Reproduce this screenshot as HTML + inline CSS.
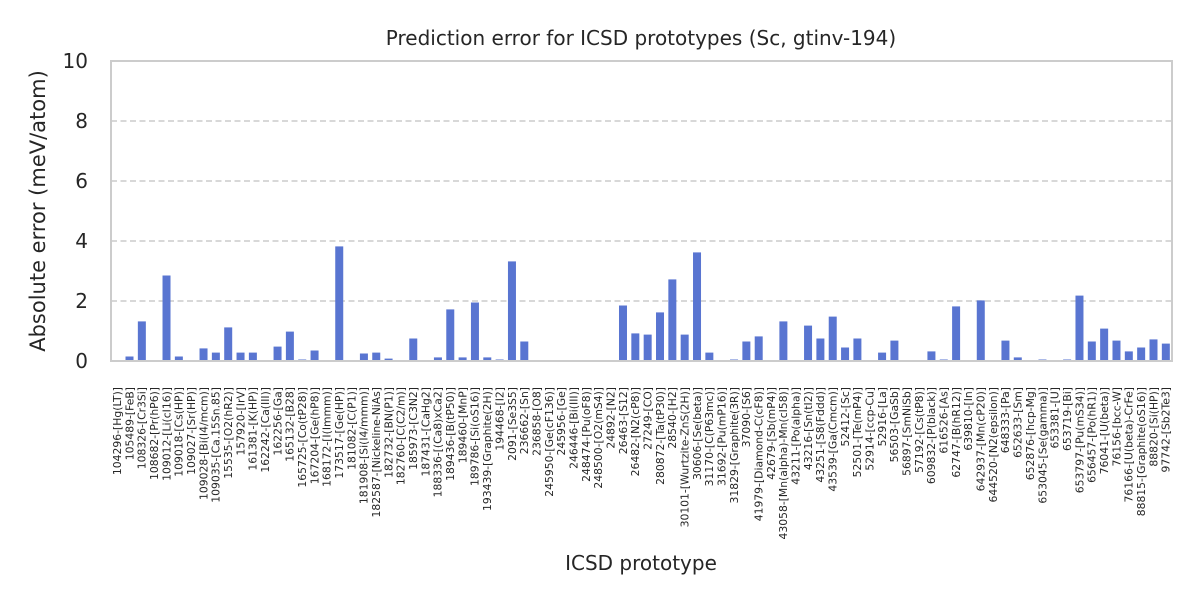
<!DOCTYPE html>
<html><head><meta charset="utf-8"><style>
html,body{margin:0;padding:0;background:#fff;}
svg{display:block;font-family:"DejaVu Sans","Liberation Sans",sans-serif;}
</style></head><body>
<svg id="chart" width="1200" height="600" viewBox="0 0 1200 600" xmlns="http://www.w3.org/2000/svg">
<rect width="1200" height="600" fill="#fff"/>
<text x="641" y="45" font-size="20" text-anchor="middle" fill="#262626">Prediction error for ICSD prototypes (Sc, gtinv-194)</text>
<text transform="translate(45,211) rotate(-90)" font-size="21" text-anchor="middle" fill="#262626">Absolute error (meV/atom)</text>
<text x="641" y="570" font-size="20" text-anchor="middle" fill="#262626">ICSD prototype</text>
<g id="grid"></g><g id="bars"></g><g id="yticks"></g><g id="xticks"></g>
<rect x="111" y="61" width="1061" height="300" fill="none" stroke="#cccccc" stroke-width="2"/>
</svg>
<script>
const categories = ["104296-[Hg(LT)]","105489-[FeB]","108326-[Cr3Si]","108682-[Pr(hP6)]","109012-[Li(cI16)]","109018-[Cs(HP)]","109027-[Sr(HP)]","109028-[Bi(I4/mcm)]","109035-[Ca.15Sn.85]","15535-[O2(hR2)]","157920-[IrV]","161381-[K(HP)]","162242-[Ca(III)]","162256-[Ga]","165132-[B28]","165725-[Co(tP28)]","167204-[Ge(hP8)]","168172-[I(Immm)]","173517-[Ge(HP)]","181082-[C(P1)]","181908-[Si(I4/mmm)]","182587-[Nickeline-NiAs]","182732-[BN(P1)]","182760-[C(C2/m)]","185973-[C3N2]","187431-[CaHg2]","188336-[(Ca8)xCa2]","189436-[B(tP50)]","189460-[MnP]","189786-[Si(oS16)]","193439-[Graphite(2H)]","194468-[I2]","2091-[Se3S5]","236662-[Sn]","236858-[O8]","245950-[Ge(cF136)]","245956-[Ge]","246446-[Bi(III)]","248474-[Pu(oF8)]","248500-[O2(mS4)]","24892-[N2]","26463-[S12]","26482-[N2(cP8)]","27249-[CO]","280872-[Ta(tP30)]","28540-[H2]","30101-[Wurtzite-ZnS(2H)]","30606-[Se(beta)]","31170-[C(P63mc)]","31692-[Pu(mP16)]","31829-[Graphite(3R)]","37090-[S6]","41979-[Diamond-C(cF8)]","42679-[Sb(mP4)]","43058-[Mn(alpha)-Mn(cI58)]","43211-[Po(alpha)]","43216-[Sn(tI2)]","43251-[S8(Fddd)]","43539-[Ga(Cmcm)]","52412-[Sc]","52501-[Te(mP4)]","52914-[ccp-Cu]","52916-[La]","56503-[GaSb]","56897-[SmNiSb]","57192-[Cs(tP8)]","609832-[P(black)]","616526-[As]","62747-[B(hR12)]","639810-[In]","642937-[Mn(cP20)]","644520-[N2(epsilon)]","648333-[Pa]","652633-[Sm]","652876-[hcp-Mg]","653045-[Se(gamma)]","653381-[U]","653719-[Bi]","653797-[Pu(mS34)]","656457-[Po(hR1)]","76041-[U(beta)]","76156-[bcc-W]","76166-[U(beta)-CrFe]","88815-[Graphite(oS16)]","88820-[Si(HP)]","97742-[Sb2Te3]"];
const values = [0,0.15,1.32,0,2.85,0.15,0,0.42,0.28,1.12,0.28,0.28,0,0.48,0.98,0.05,0.35,0,3.82,0,0.25,0.28,0.08,0,0.75,0,0.12,1.72,0.12,1.95,0.12,0.05,3.32,0.65,0,0,0,0,0,0,0,1.85,0.92,0.88,1.62,2.72,0.88,3.62,0.28,0,0.05,0.65,0.82,0,1.32,0,1.18,0.75,1.48,0.45,0.75,0,0.28,0.68,0,0,0.32,0.05,1.82,0,2.02,0,0.68,0.12,0,0.05,0,0.05,2.18,0.65,1.08,0.68,0.32,0.45,0.72,0.58];
const yTicks = [0,2,4,6,8,10];
const NS = "http://www.w3.org/2000/svg";
const X0 = 111, X1 = 1172, Y0 = 361, Y1 = 61, YMAX = 10;
const step = (X1 - X0) / categories.length;
function xScale(i){ return X0 + step * (i + 0.5); }
function yScale(v){ return Y0 - (v / YMAX) * (Y0 - Y1); }
function mk(tag, attrs, parent){ const e = document.createElementNS(NS, tag); for (const k in attrs) e.setAttribute(k, attrs[k]); parent.appendChild(e); return e; }
const grid = document.getElementById('grid'), bars = document.getElementById('bars'), yt = document.getElementById('yticks'), xt = document.getElementById('xticks');
yTicks.forEach(t => {
  if (t > 0 && t < YMAX) {
    const g = mk('line', {x1: X0, x2: X1, y1: yScale(t), y2: yScale(t), stroke: '#cccccc', 'stroke-width': 1.6, 'stroke-dasharray': '6,3.5'}, grid);
    
    
  }
  const tx = mk('text', {x: 88, y: yScale(t) + 7, 'font-size': 20, 'text-anchor': 'end', fill: '#262626'}, yt);
  tx.textContent = t;
  
  
});
const bw = 8;
values.forEach((v, i) => {
  const r = mk('rect', {x: xScale(i) - bw / 2, y: yScale(v), width: bw, height: Y0 - yScale(v), fill: '#5975d1'}, bars);
  
  
});
categories.forEach((c, i) => {
  const x = xScale(i) + 3.8;
  const t = mk('text', {transform: 'translate(' + x + ',387) rotate(-90)', 'font-size': 10.8, 'text-anchor': 'end', fill: '#262626'}, xt);
  t.textContent = c;
  
  
});
</script>
</body></html>
